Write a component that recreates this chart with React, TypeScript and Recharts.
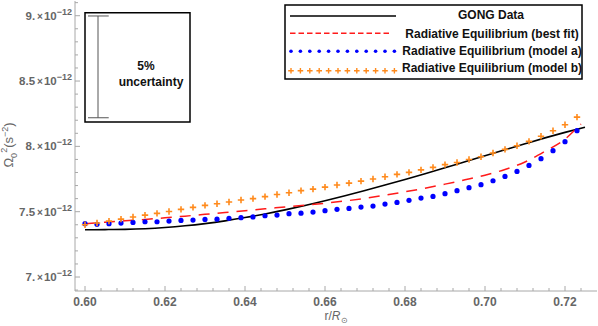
import React from 'react';
import { LineChart, Line, XAxis, YAxis, ReferenceArea, ReferenceLine } from 'recharts';

// GONG helioseismic rotation (solid black)
const gongR = [0.6, 0.605, 0.61, 0.615, 0.62, 0.625, 0.63, 0.635, 0.64, 0.645, 0.65, 0.655, 0.66, 0.665, 0.67, 0.675, 0.68, 0.685, 0.69, 0.695, 0.7, 0.705, 0.71, 0.715, 0.72, 0.725];
const gongV = [7.362, 7.363, 7.365, 7.37, 7.379, 7.392, 7.409, 7.43, 7.455, 7.483, 7.514, 7.548, 7.584, 7.622, 7.662, 7.704, 7.747, 7.791, 7.836, 7.882, 7.928, 7.974, 8.02, 8.065, 8.107, 8.147];

// radiative equilibrium, best fit (red dashed)
const bestR = [0.6, 0.605, 0.61, 0.615, 0.62, 0.625, 0.63, 0.635, 0.64, 0.645, 0.65, 0.655, 0.66, 0.665, 0.67, 0.675, 0.68, 0.685, 0.69, 0.695, 0.7, 0.705, 0.71, 0.715, 0.72, 0.7225, 0.724];
const bestV = [7.408, 7.419, 7.43, 7.441, 7.453, 7.466, 7.48, 7.494, 7.508, 7.522, 7.536, 7.55, 7.565, 7.582, 7.602, 7.626, 7.652, 7.68, 7.711, 7.744, 7.779, 7.823, 7.88, 7.962, 8.055, 8.125, 8.17];

// models a and b share the same radii
const modelR = [0.6, 0.603, 0.606, 0.609, 0.612, 0.615, 0.618, 0.621, 0.624, 0.627, 0.63, 0.633, 0.636, 0.639, 0.642, 0.645, 0.648, 0.651, 0.654, 0.657, 0.66, 0.663, 0.666, 0.669, 0.672, 0.675, 0.678, 0.681, 0.684, 0.687, 0.69, 0.693, 0.696, 0.699, 0.702, 0.705, 0.708, 0.711, 0.714, 0.717, 0.72, 0.723];
const modelA = [7.408, 7.403, 7.408, 7.413, 7.418, 7.423, 7.423, 7.428, 7.433, 7.436, 7.441, 7.443, 7.449, 7.454, 7.46, 7.469, 7.474, 7.485, 7.489, 7.497, 7.508, 7.518, 7.525, 7.535, 7.543, 7.558, 7.571, 7.587, 7.604, 7.617, 7.638, 7.661, 7.684, 7.707, 7.737, 7.77, 7.808, 7.854, 7.906, 7.967, 8.036, 8.12];
const modelB = [7.4, 7.413, 7.428, 7.443, 7.459, 7.474, 7.487, 7.502, 7.518, 7.533, 7.548, 7.561, 7.574, 7.589, 7.6, 7.615, 7.632, 7.645, 7.661, 7.673, 7.688, 7.704, 7.719, 7.734, 7.75, 7.768, 7.786, 7.801, 7.82, 7.839, 7.86, 7.877, 7.9, 7.921, 7.949, 7.977, 8.005, 8.038, 8.077, 8.12, 8.166, 8.224];

// axis ticks (values in units of 1e-12 s^-2)
const xMajor = [0.6, 0.62, 0.64, 0.66, 0.68, 0.7, 0.72];
const yMajor = [7, 7.5, 8, 8.5, 9];
const yMantissa = ['7.', '7.5', '8.', '8.5', '9.'];

const X_DOMAIN = [0.5975, 0.728];
const Y_DOMAIN = [6.893, 9.1126];

const xTicks: number[] = [];
for (let i = 0; i <= 31; i++) xTicks.push(Math.round((0.6 + 0.004 * i) * 1000) / 1000);
const yTicks: number[] = [];
for (let i = 0; i <= 22; i++) yTicks.push(Math.round((6.9 + 0.1 * i) * 10) / 10);

const pts = (rs: number[], vs: number[]) => rs.map((r, i) => ({ r, v: vs[i] }));

const FONT = '"Liberation Sans", Arial, sans-serif';
const FRAME = '#a8a8a8';
const LABEL = '#666666';

const near = (list: number[], v: number) => list.findIndex((m) => Math.abs(m - v) < 1e-6);

const BottomTick = (props: any) => {
  const { x, y, payload } = props;
  const major = near(xMajor, payload.value) >= 0;
  return (
    <g>
      <line x1={x} x2={x} y1={y} y2={y - (major ? 5 : 3)} stroke={FRAME} />
      {major && (
        <text x={x} y={y + 15} textAnchor="middle" fill={LABEL} fontFamily={FONT} fontSize={12} fontWeight="bold">
          {payload.value.toFixed(2)}
        </text>
      )}
    </g>
  );
};

const TopTick = (props: any) => {
  const { x, y, payload } = props;
  const major = near(xMajor, payload.value) >= 0;
  return <line x1={x} x2={x} y1={y} y2={y + (major ? 5 : 3)} stroke={FRAME} />;
};

const LeftTick = (props: any) => {
  const { x, y, payload } = props;
  const idx = near(yMajor, payload.value);
  return (
    <g>
      <line x1={x} x2={x + (idx >= 0 ? 5 : 3)} y1={y} y2={y} stroke={FRAME} />
      {idx >= 0 && (
        <text x={x - 3} y={y + 4} textAnchor="end" fill={LABEL} fontFamily={FONT} fontSize={11.5} fontWeight="bold">
          <tspan>{yMantissa[idx]}</tspan>
          <tspan dx={2} fontSize={10}>×</tspan>
          <tspan dx={1}>10</tspan>
          <tspan dy={-5} fontSize={9}>−12</tspan>
        </text>
      )}
    </g>
  );
};

const RightTick = (props: any) => {
  const { x, y, payload } = props;
  const major = near(yMajor, payload.value) >= 0;
  return <line x1={x} x2={x - (major ? 5 : 3)} y1={y} y2={y} stroke={FRAME} />;
};

const PlusDot = (props: any) => {
  const { cx, cy, index } = props;
  if (cx == null || cy == null) return <g key={index} />;
  return (
    <path
      key={index}
      d={`M${cx - 3.2},${cy}H${cx + 3.2}M${cx},${cy - 3.2}V${cy + 3.2}`}
      stroke="#ff8a1c"
      strokeWidth={1.6}
      fill="none"
    />
  );
};

const XTitle = () => (
  <text x={336} y={320} textAnchor="middle" fill={LABEL} fontFamily={FONT} fontSize={12}>
    <tspan>r/</tspan>
    <tspan fontStyle="italic">R</tspan>
    <tspan dy={2.5} fontSize={8}>⊙</tspan>
  </text>
);

const YTitle = () => (
  <text transform="translate(13,145) rotate(-90)" textAnchor="middle" fill={LABEL} fontFamily={FONT} fontSize={13}>
    <tspan>Ω</tspan>
    <tspan dy={4} fontSize={9}>0</tspan>
    <tspan dy={-10} fontSize={9}>2</tspan>
    <tspan dy={6}>(s</tspan>
    <tspan dy={-5} fontSize={9}>−2</tspan>
    <tspan dy={5}>)</tspan>
  </text>
);

function LegendBox() {
  const dots = Array.from({ length: 12 }, (_, i) => 291 + i * 9.4);
  const txt = { fontFamily: FONT, fontSize: 12, fontWeight: 'bold' as const, fill: '#111', textAnchor: 'middle' as const };
  return (
    <svg width={598} height={326} style={{ position: 'absolute', left: 0, top: 0, pointerEvents: 'none' }}>
      <rect x={285} y={5} width={297} height={74} fill="#fff" stroke="#000" strokeWidth={1.5} />
      <line x1={290} x2={396} y1={16} y2={16} stroke="#000" strokeWidth={1.6} />
      <line x1={290} x2={391} y1={33.3} y2={33.3} stroke="#ff1a1a" strokeWidth={1.5} strokeDasharray="5.5 3" />
      {dots.map((x) => (
        <circle key={'a' + x} cx={x} cy={51.3} r={1.8} fill="#0000ff" />
      ))}
      {dots.map((x) => (
        <path key={'b' + x} d={`M${x - 2.8},70.7H${x + 2.8}M${x},67.9V73.5`} stroke="#ff8a1c" strokeWidth={1.4} />
      ))}
      <text x={491} y={19} {...txt}>GONG Data</text>
      <text x={492} y={37.5} {...txt}>Radiative Equilibrium (best fit)</text>
      <text x={492} y={55} {...txt}>Radiative Equilibrium (model a)</text>
      <text x={492} y={71.5} {...txt}>Radiative Equilibrium (model b)</text>
      <text x={146} y={70} {...txt}>5%</text>
      <text x={151} y={86} {...txt}>uncertainty</text>
    </svg>
  );
}

export default function App() {
  return (
    <div style={{ position: 'absolute', left: 0, top: 0, width: 598, height: 326, background: '#fff' }}>
      <LineChart width={598} height={326} margin={{ top: 1, right: 1, bottom: 0, left: 0 }}>
        <XAxis
          xAxisId="b"
          dataKey="r"
          type="number"
          domain={X_DOMAIN}
          allowDataOverflow
          ticks={xTicks}
          interval={0}
          height={35}
          tickSize={0}
          tickMargin={0}
          tickLine={false}
          tick={<BottomTick />}
          stroke={FRAME}
          label={<XTitle />}
        />
        <XAxis
          xAxisId="t"
          orientation="top"
          dataKey="r"
          type="number"
          domain={X_DOMAIN}
          allowDataOverflow
          ticks={xTicks}
          interval={0}
          height={0}
          tickSize={0}
          tickMargin={0}
          tickLine={false}
          tick={<TopTick />}
          stroke={FRAME}
        />
        <YAxis
          yAxisId="l"
          type="number"
          domain={Y_DOMAIN}
          allowDataOverflow
          ticks={yTicks}
          interval={0}
          width={75}
          tickSize={0}
          tickMargin={0}
          tickLine={false}
          tick={<LeftTick />}
          stroke={FRAME}
          label={<YTitle />}
        />
        <YAxis
          yAxisId="r"
          orientation="right"
          type="number"
          domain={Y_DOMAIN}
          allowDataOverflow
          ticks={yTicks}
          interval={0}
          width={0}
          tickSize={0}
          tickMargin={0}
          tickLine={false}
          tick={<RightTick />}
          stroke={FRAME}
        />
        <ReferenceArea
          xAxisId="b"
          yAxisId="l"
          x1={0.6}
          x2={0.62625}
          y1={8.186}
          y2={9.023}
          fill="#fff"
          fillOpacity={1}
          stroke="#000"
          strokeWidth={1.5}
        />
        <ReferenceLine xAxisId="b" yAxisId="l" segment={[{ x: 0.60325, y: 8.219 }, { x: 0.60325, y: 8.998 }]} stroke="#555" />
        <ReferenceLine xAxisId="b" yAxisId="l" segment={[{ x: 0.60075, y: 8.998 }, { x: 0.60593, y: 8.998 }]} stroke="#555" />
        <ReferenceLine xAxisId="b" yAxisId="l" segment={[{ x: 0.60075, y: 8.219 }, { x: 0.60593, y: 8.219 }]} stroke="#555" />
        <Line
          xAxisId="b"
          yAxisId="l"
          data={pts(gongR, gongV)}
          dataKey="v"
          type="monotone"
          stroke="#000"
          strokeWidth={1.6}
          dot={false}
          isAnimationActive={false}
        />
        <Line
          xAxisId="b"
          yAxisId="l"
          data={pts(bestR, bestV)}
          dataKey="v"
          type="monotone"
          stroke="#ff1a1a"
          strokeWidth={1.5}
          strokeDasharray="11 8"
          dot={false}
          isAnimationActive={false}
        />
        <Line
          xAxisId="b"
          yAxisId="l"
          data={pts(modelR, modelA)}
          dataKey="v"
          stroke="none"
          strokeWidth={0}
          dot={{ r: 2.6, fill: '#0000ff', stroke: 'none' }}
          isAnimationActive={false}
        />
        <Line
          xAxisId="b"
          yAxisId="l"
          data={pts(modelR, modelB)}
          dataKey="v"
          stroke="none"
          strokeWidth={0}
          dot={PlusDot}
          isAnimationActive={false}
        />
      </LineChart>
      <LegendBox />
    </div>
  );
}
